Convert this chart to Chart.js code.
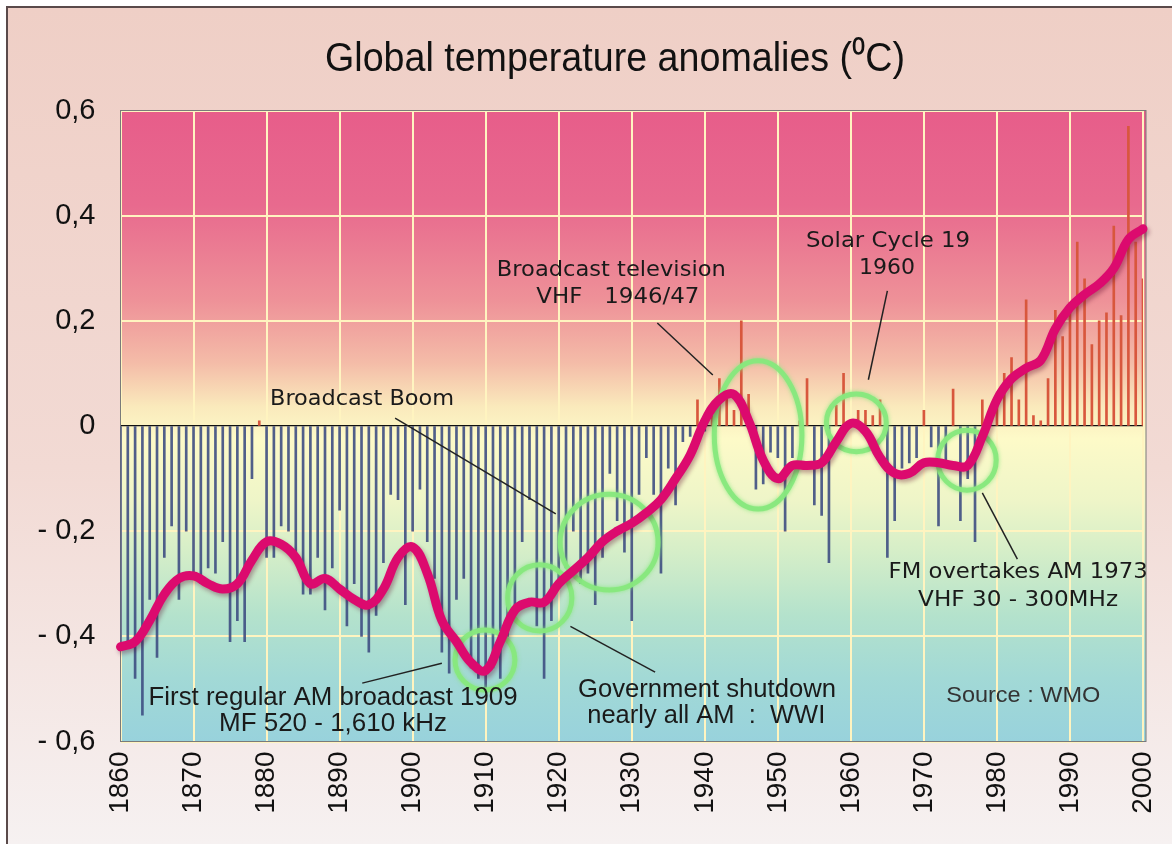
<!DOCTYPE html>
<html>
<head>
<meta charset="utf-8">
<script src="https://cdn.jsdelivr.net/npm/chart.js@4.4.1/dist/chart.umd.min.js"></script>
<style>
  html, body { margin: 0; padding: 0; background: #fff; }
  canvas { display: block; }
</style>
</head>
<body>
<canvas id="myChart" width="1172" height="844"></canvas>
<script>
// annual anomalies 1860 - 2000 (one row per decade)
var anomalies = [
  -0.42, -0.42, -0.48, -0.55, -0.33, -0.44, -0.25, -0.19, -0.33, -0.20,
  -0.28, -0.30, -0.27, -0.28, -0.22, -0.41, -0.37, -0.41, -0.10, 0.01,
  -0.25, -0.25, -0.19, -0.20, -0.25, -0.32, -0.32, -0.25, -0.35, -0.27,
  -0.16, -0.38, -0.30, -0.40, -0.43, -0.36, -0.26, -0.13, -0.14, -0.34,
  -0.20, -0.12, -0.22, -0.29, -0.43, -0.47, -0.33, -0.29, -0.46, -0.48,
  -0.50, -0.46, -0.48, -0.40, -0.35, -0.22, -0.14, -0.38, -0.48, -0.37,
  -0.30, -0.27, -0.20, -0.30, -0.28, -0.34, -0.25, -0.09, -0.18, -0.24,
  -0.37, -0.13, -0.06, -0.13, -0.28, -0.08, -0.15, -0.03, -0.02, 0.05,
  -0.01, 0.02, 0.09, 0.06, 0.03, 0.20, 0.06, -0.12, -0.11, -0.05,
  -0.06, -0.20, -0.06, 0.01, 0.09, -0.15, -0.17, -0.26, 0.04, 0.10,
  0.01, 0.03, 0.03, 0.02, 0.05, -0.25, -0.18, -0.08, -0.07, -0.06,
  0.03, -0.04, -0.19, -0.07, 0.07, -0.18, -0.10, -0.22, 0.05, 0.03,
  0.04, 0.10, 0.13, 0.05, 0.24, 0.02, 0.01, 0.09, 0.22, 0.17,
  0.235, 0.35, 0.28, 0.155, 0.20, 0.215, 0.38, 0.21, 0.57, 0.35,
  0.28
];
var firstYear = 1860;

// smoothed curve, every second year 1860 - 2000
var smoothed = [
  -0.42, -0.41, -0.37, -0.32, -0.29,
  -0.285, -0.30, -0.31, -0.30, -0.255,
  -0.22, -0.225, -0.25, -0.30, -0.29,
  -0.31, -0.33, -0.34, -0.31, -0.25,
  -0.23, -0.28, -0.37, -0.41, -0.45,
  -0.465, -0.41, -0.35, -0.335, -0.335,
  -0.30, -0.275, -0.25, -0.22, -0.20,
  -0.185, -0.165, -0.14, -0.10, -0.055,
  0.01, 0.05, 0.06, 0.01, -0.065,
  -0.10, -0.075, -0.075, -0.07, -0.03,
  0.005, -0.01, -0.06, -0.09, -0.09,
  -0.07, -0.07, -0.075, -0.075, -0.02,
  0.05, 0.09, 0.11, 0.125, 0.185,
  0.225, 0.25, 0.27, 0.30, 0.355,
  0.375
];
var smoothStep = 2;

var yTicks = [-0.6, -0.4, -0.2, 0, 0.2, 0.4, 0.6];
var xTicks = [1860, 1870, 1880, 1890, 1900, 1910, 1920, 1930, 1940, 1950, 1960, 1970, 1980, 1990, 2000];

var titleText = 'Global temperature anomalies (\u2070C)';

// green rings, in data units (year, anomaly)
var rings = [
  { year: 1909.9, value: -0.445, rYear: 4.1, rValue: 0.057 },
  { year: 1917.4, value: -0.327, rYear: 4.4, rValue: 0.063 },
  { year: 1926.9, value: -0.221, rYear: 6.7, rValue: 0.091 },
  { year: 1947.3, value: -0.017, rYear: 6.0, rValue: 0.141 },
  { year: 1960.75, value: 0.006, rYear: 4.1, rValue: 0.055 },
  { year: 1975.9, value: -0.065, rYear: 4.0, rValue: 0.057 }
];

// pointer lines
var leaders = [
  [1897.6, 0.015, 1919.6, -0.167],
  [1933.5, 0.196, 1941.1, 0.097],
  [1965.0, 0.257, 1962.4, 0.088],
  [1978.0, -0.127, 1982.8, -0.253],
  [1921.6, -0.381, 1933.2, -0.468],
  [1893.1, -0.489, 1904.0, -0.451]
];

var verdana = '21px "DejaVu Sans", Verdana, sans-serif';
var narrow = '26px "Liberation Sans Narrow", "Liberation Sans", Arial, sans-serif';
var notes = [
  { text: 'Broadcast Boom', year: 1893.07, value: 0.051, font: verdana, w: 184 },
  { text: 'Broadcast television', year: 1927.2, value: 0.295, font: verdana, w: 229 },
  { text: 'VHF   1946/47', year: 1928.1, value: 0.245, font: verdana, w: 163 },
  { text: 'Solar Cycle 19', year: 1965.1, value: 0.350, font: verdana, w: 164 },
  { text: '1960', year: 1964.95, value: 0.300, font: verdana, w: 56 },
  { text: 'FM overtakes AM 1973', year: 1982.9, value: -0.278, font: verdana, w: 259 },
  { text: 'VHF 30 - 300MHz', year: 1982.9, value: -0.331, font: verdana, w: 200 },
  { text: 'Government shutdown', year: 1940.3, value: -0.502, font: narrow, w: 258 },
  { text: 'nearly all AM  :  WWI', year: 1940.2, value: -0.552, font: narrow, w: 238 },
  { text: 'First regular AM broadcast 1909', year: 1889.1, value: -0.517, font: narrow, w: 369 },
  { text: 'MF 520 - 1,610 kHz', year: 1889.1, value: -0.567, font: narrow, w: 228 },
  { text: 'Source : WMO', year: 1983.6, value: -0.514, font: '22px "Liberation Sans", Arial, sans-serif', w: 154, color: '#333' }
];

function fitText(ctx, text, x, y, font, width, color) {
  ctx.font = font;
  var w = ctx.measureText(text).width;
  ctx.save();
  ctx.translate(x, y);
  ctx.scale(width / w, 1);
  ctx.fillStyle = color || '#1a1a1a';
  ctx.textAlign = 'center';
  ctx.textBaseline = 'middle';
  ctx.fillText(text, 0, 0);
  ctx.restore();
}

var backdrop = {
  id: 'backdrop',
  beforeDraw: function (chart) {
    var ctx = chart.ctx, a = chart.chartArea, W = chart.width, H = chart.height;
    ctx.save();
    ctx.fillStyle = '#ffffff';
    ctx.fillRect(0, 0, W, H);
    var g = ctx.createLinearGradient(0, 8, 0, H);
    g.addColorStop(0, '#efcfc6');
    g.addColorStop(0.55, '#f2dad4');
    g.addColorStop(1, '#f6f1f1');
    ctx.fillStyle = g;
    ctx.fillRect(8, 8, W - 8, H - 8);
    ctx.strokeStyle = '#5a4a4a';
    ctx.lineWidth = 2;
    ctx.beginPath();
    ctx.moveTo(7, H); ctx.lineTo(7, 7); ctx.lineTo(W, 7);
    ctx.stroke();

    var pg = ctx.createLinearGradient(0, a.top, 0, a.bottom);
    pg.addColorStop(0.00, '#e75d8a');
    pg.addColorStop(0.15, '#e86a8e');
    pg.addColorStop(0.30, '#ee9198');
    pg.addColorStop(0.40, '#f4bca8');
    pg.addColorStop(0.47, '#faeabc');
    pg.addColorStop(0.52, '#fdfac8');
    pg.addColorStop(0.62, '#eef5c8');
    pg.addColorStop(0.70, '#d5eec8');
    pg.addColorStop(0.80, '#b4e2cc');
    pg.addColorStop(0.90, '#a2d9d6');
    pg.addColorStop(1.00, '#98d2dc');
    ctx.fillStyle = pg;
    ctx.fillRect(a.left, a.top, a.right - a.left + 3, a.bottom - a.top);

    fitText(ctx, titleText, 615, 60, '40px "Liberation Sans", Arial, sans-serif', 580, '#111');
    ctx.restore();
  },
  beforeDatasetsDraw: function (chart) {
    var ctx = chart.ctx, a = chart.chartArea;
    ctx.save();
    ctx.strokeStyle = '#7a7a7a';
    ctx.lineWidth = 1;
    ctx.strokeRect(a.left, a.top, a.right - a.left + 3, a.bottom - a.top);
    ctx.restore();
  },
  beforeDatasetDraw: function (chart, args) {
    if (args.meta.type === 'line') {
      var ctx = chart.ctx;
      ctx.save();
      ctx.shadowColor = 'rgba(90, 0, 40, 0.35)';
      ctx.shadowBlur = 4;
      ctx.shadowOffsetX = 2;
      ctx.shadowOffsetY = 3;
    }
  },
  afterDatasetDraw: function (chart, args) {
    var ctx = chart.ctx, x = chart.scales.x, y = chart.scales.y;
    if (args.meta.type === 'line') {
      ctx.restore();
      return;
    }
    // rings go between the bars and the curve
    ctx.save();
    ctx.strokeStyle = 'rgba(135, 232, 125, 0.95)';
    ctx.shadowColor = 'rgba(135, 232, 125, 0.9)';
    ctx.shadowBlur = 4;
    ctx.lineWidth = 5;
    rings.forEach(function (r) {
      var cx = x.getPixelForValue(r.year), cy = y.getPixelForValue(r.value);
      var rx = x.getPixelForValue(r.year + r.rYear) - cx;
      var ry = cy - y.getPixelForValue(r.value + r.rValue);
      ctx.beginPath();
      ctx.ellipse(cx, cy, rx, ry, 0, 0, Math.PI * 2);
      ctx.stroke();
    });
    ctx.restore();
  },
  afterDatasetsDraw: function (chart) {
    var ctx = chart.ctx, x = chart.scales.x, y = chart.scales.y;
    ctx.save();
    ctx.strokeStyle = '#222';
    ctx.lineWidth = 1.5;
    leaders.forEach(function (l) {
      ctx.beginPath();
      ctx.moveTo(x.getPixelForValue(l[0]), y.getPixelForValue(l[1]));
      ctx.lineTo(x.getPixelForValue(l[2]), y.getPixelForValue(l[3]));
      ctx.stroke();
    });
    notes.forEach(function (n) {
      fitText(ctx, n.text, x.getPixelForValue(n.year), y.getPixelForValue(n.value), n.font, n.w, n.color);
    });
    ctx.restore();
  }
};

var barPoints = anomalies.map(function (v, i) { return { x: firstYear + i, y: v }; });
var curvePoints = smoothed.map(function (v, i) { return { x: firstYear + i * smoothStep, y: v }; });

var cream = '#fff4c0';

var ctx = document.getElementById('myChart');
var chart = new Chart(ctx, {
  type: 'bar',
  data: {
    datasets: [{
      type: 'line',
      label: 'smoothed',
      data: curvePoints,
      borderColor: '#dc0a6e',
      borderWidth: 9,
      tension: 0.4,
      pointRadius: 0,
      borderCapStyle: 'round',
      borderJoinStyle: 'round',
      clip: false,
      order: 0
    }, {
      type: 'bar',
      label: 'annual',
      data: barPoints,
      barThickness: 2,
      backgroundColor: function (c) {
        return c.raw && c.raw.y >= 0 ? '#d8573d' : 'rgba(62, 78, 130, 0.9)';
      },
      order: 1
    }]
  },
  options: {
    responsive: false,
    devicePixelRatio: 1,
    animation: false,
    layout: { padding: { top: 110.5, right: 29, bottom: 0, left: 0 } },
    plugins: {
      legend: { display: false },
      tooltip: { enabled: false },
      title: { display: false }
    },
    scales: {
      x: {
        type: 'linear',
        offset: false,
        min: 1860,
        max: 2000,
        afterFit: function (s) {
          s.height = 102.5;
          s.paddingLeft = 0;
          s.paddingRight = 0;
        },
        afterBuildTicks: function (s) { s.ticks = xTicks.map(function (v) { return { value: v }; }); },
        grid: { color: cream, lineWidth: 2, drawTicks: false, offset: false },
        border: { display: false },
        ticks: {
          autoSkip: false,
          minRotation: 90,
          maxRotation: 90,
          padding: 10,
          color: '#111',
          font: { family: '"Liberation Sans", Arial, sans-serif', size: 28 },
          callback: function (v) { return String(v); }
        }
      },
      y: {
        min: -0.6,
        max: 0.6,
        afterFit: function (s) {
          s.width = 120.5;
          s.paddingTop = 0;
          s.paddingBottom = 0;
        },
        afterBuildTicks: function (s) { s.ticks = yTicks.map(function (v) { return { value: v }; }); },
        grid: {
          drawTicks: false,
          color: function (c) { return c.tick && Math.abs(c.tick.value) < 1e-9 ? '#111' : cream; },
          lineWidth: function (c) { return c.tick && Math.abs(c.tick.value) < 1e-9 ? 1.3 : 2; }
        },
        border: { display: false },
        ticks: {
          padding: 25,
          color: '#111',
          font: { family: '"Liberation Sans", Arial, sans-serif', size: 29 },
          callback: function (v) {
            var r = Math.round(v * 10) / 10;
            if (r === 0) return '0';
            var s = Math.abs(r).toFixed(1).replace('.', ',');
            return r < 0 ? '- ' + s : s;
          }
        }
      }
    }
  },
  plugins: [backdrop]
});
</script>
</body>
</html>
